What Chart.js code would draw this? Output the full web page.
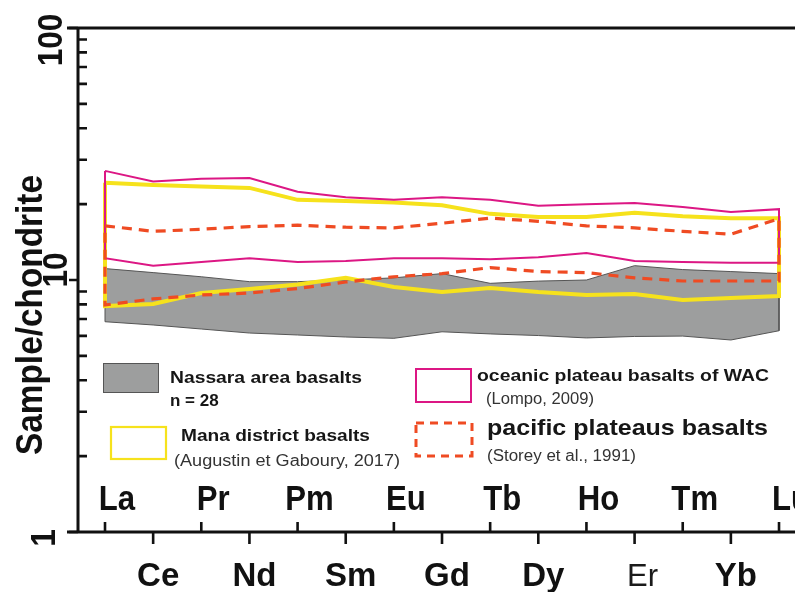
<!DOCTYPE html>
<html>
<head>
<meta charset="utf-8">
<script src="https://cdn.jsdelivr.net/npm/chart.js@4.4.0/dist/chart.umd.min.js"></script>
<style>
  html, body { margin: 0; padding: 0; background: #fff; overflow: hidden; }
  canvas { display: block; }
</style>
</head>
<body>
<canvas id="ree" width="795" height="592"></canvas>
<script>
// Chondrite-normalised REE patterns (sample/chondrite), La → Lu
const elements = ['La', 'Ce', 'Pr', 'Nd', 'Pm', 'Sm', 'Eu', 'Gd', 'Tb', 'Dy', 'Ho', 'Er', 'Tm', 'Yb', 'Lu'];

// Nassara area basalts (n = 28): envelope of the field
const nassaraMax = [11.1, 10.7, 10.3, 9.85, 9.85, 10.0, 10.2, 10.6, 9.7, 9.9, 10.0, 11.4, 11.0, 10.8, 10.6];
const nassaraMin = [6.83, 6.63, 6.39, 6.16, 6.05, 5.94, 5.87, 6.23, 6.11, 6.02, 5.89, 5.97, 5.99, 5.78, 6.29];

// Mana district basalts (Augustin et Gaboury, 2017)
const manaMax = [24.3, 23.8, 23.5, 23.2, 20.8, 20.6, 20.3, 19.8, 18.3, 17.8, 17.8, 18.5, 17.9, 17.6, 17.6];
const manaMin = [7.88, 8.03, 8.88, 9.21, 9.6, 10.2, 9.38, 8.96, 9.3, 8.96, 8.72, 8.8, 8.33, 8.48, 8.64];

// Oceanic plateau basalts of WAC (Lompo, 2009)
const wacMax = [27.1, 24.6, 25.2, 25.4, 22.4, 21.3, 20.8, 21.3, 20.8, 19.7, 20.0, 20.2, 19.5, 18.6, 19.1];
const wacMin = [12.2, 11.4, 11.8, 12.2, 11.8, 11.9, 12.2, 12.2, 12.1, 12.3, 12.8, 11.9, 11.8, 11.7, 11.7];

// Pacific plateau basalts (Storey et al., 1991)
const pacificMax = [16.4, 15.6, 15.9, 16.3, 16.5, 16.2, 16.1, 16.8, 17.6, 17.1, 16.4, 16.1, 15.6, 15.2, 17.5];
const pacificMin = [7.96, 8.41, 8.72, 8.88, 9.25, 9.82, 10.3, 10.6, 11.2, 10.8, 10.7, 10.2, 9.91, 9.91, 9.91];

// Axis tick labels
const yMajorTicks = [1, 10, 100];
const yMinorTicks = [2, 3, 4, 5, 6, 7, 8, 9, 20, 30, 40, 50, 60, 70, 80, 90];

const FONT = "'Liberation Sans', Arial, Helvetica, sans-serif";
const COLORS = {
  axis: '#111111',
  grey: '#9d9e9e',
  greyEdge: '#555555',
  yellow: '#f6e21c',
  magenta: '#dc1784',
  orange: '#ef4b23'
};

// Closed outline: upper curve La→Lu, then lower curve Lu→La, back to start
function envelope(upper, lower) {
  const pts = upper.map((v, i) => ({ x: i, y: v }));
  for (let i = lower.length - 1; i >= 0; i--) pts.push({ x: i, y: lower[i] });
  pts.push({ x: 0, y: upper[0] });
  return pts;
}

// Text helper: optional rotation and horizontal squeeze
function text(ctx, str, x, y, o) {
  ctx.save();
  ctx.font = o.font;
  ctx.fillStyle = o.color || COLORS.axis;
  ctx.textAlign = o.align || 'left';
  ctx.textBaseline = o.baseline || 'alphabetic';
  ctx.translate(x, y);
  if (o.rotate) ctx.rotate(o.rotate);
  let sx = o.sx || 1;
  if (o.width) sx = o.width / ctx.measureText(str).width;
  ctx.scale(sx, o.sy || 1);
  ctx.fillText(str, 0, 0);
  ctx.restore();
}

const axesPlugin = {
  id: 'reeAxes',
  afterDraw(chart) {
    const { ctx, chartArea: a, scales: { x, y } } = chart;
    ctx.save();
    ctx.strokeStyle = COLORS.axis;
    ctx.lineWidth = 3;
    ctx.lineCap = 'butt';
    // frame: top line, left axis, bottom axis
    ctx.beginPath();
    ctx.moveTo(a.left - 11, a.top); ctx.lineTo(a.right, a.top);
    ctx.moveTo(a.left - 11, a.bottom); ctx.lineTo(a.right, a.bottom);
    ctx.moveTo(a.left, a.top - 1.5); ctx.lineTo(a.left, a.bottom + 1.5);
    ctx.stroke();

    // y ticks: majors outward, minors inward
    ctx.lineWidth = 2.6;
    ctx.beginPath();
    yMajorTicks.forEach(v => {
      const py = y.getPixelForValue(v);
      ctx.moveTo(a.left - 9, py); ctx.lineTo(a.left, py);
    });
    yMinorTicks.forEach(v => {
      const py = y.getPixelForValue(v);
      ctx.moveTo(a.left, py); ctx.lineTo(a.left + 9, py);
    });
    // x ticks alternate up / down
    elements.forEach((el, i) => {
      const px = x.getPixelForValue(i);
      if (i % 2 === 0) { ctx.moveTo(px, a.bottom); ctx.lineTo(px, a.bottom - 10); }
      else { ctx.moveTo(px, a.bottom); ctx.lineTo(px, a.bottom + 12); }
    });
    ctx.stroke();
    ctx.restore();

    // y tick labels (rotated)
    const yLabelShift = { 1: [-23, 6], 10: [-11, -10], 100: [-16, 12] };
    yMajorTicks.forEach(v => {
      const [dx, dy] = yLabelShift[v];
      text(ctx, String(v), a.left + dx, y.getPixelForValue(v) + dy, {
        font: `bold 35px ${FONT}`, align: 'center', rotate: -Math.PI / 2, sx: 0.9
      });
    });

    // axis title
    text(ctx, 'Sample/chondrite', 42, 315, {
      font: `bold 37px ${FONT}`, align: 'center', rotate: -Math.PI / 2, width: 280
    });

    // element labels in two staggered rows
    elements.forEach((el, i) => {
      const px = x.getPixelForValue(i);
      if (i % 2 === 0) {
        text(ctx, el, px + 12, 510, { font: `bold 35px ${FONT}`, align: 'center', sx: 0.89 });
      } else if (el === 'Er') {
        text(ctx, el, px + 8, 586, { font: `31px ${FONT}`, align: 'center', color: '#1a1a1a' });
      } else {
        text(ctx, el, px + 5, 586, { font: `bold 33px ${FONT}`, align: 'center' });
      }
    });
  }
};

const legendPlugin = {
  id: 'reeLegend',
  afterDraw(chart) {
    const ctx = chart.ctx;
    ctx.save();
    // Nassara swatch
    ctx.fillStyle = COLORS.grey;
    ctx.fillRect(103, 363, 56, 30);
    ctx.strokeStyle = COLORS.greyEdge; ctx.lineWidth = 1;
    ctx.strokeRect(103.5, 363.5, 55, 29);
    // Mana swatch
    ctx.strokeStyle = COLORS.yellow; ctx.lineWidth = 2.2;
    ctx.strokeRect(111, 427, 55, 32);
    // WAC swatch
    ctx.strokeStyle = COLORS.magenta; ctx.lineWidth = 2;
    ctx.strokeRect(416, 369, 55, 33);
    // Pacific swatch
    ctx.strokeStyle = COLORS.orange; ctx.lineWidth = 3;
    ctx.setLineDash([8, 6]);
    ctx.strokeRect(416, 423, 56, 33);
    ctx.restore();

    const bold17 = `bold 17px ${FONT}`;
    const reg16 = `16px ${FONT}`;
    text(ctx, 'Nassara area basalts', 170, 383, { font: bold17, width: 192, color: '#161616' });
    text(ctx, 'n = 28', 170, 406, { font: bold17, color: '#161616' });
    text(ctx, 'Mana district basalts', 181, 441, { font: bold17, width: 189, color: '#161616' });
    text(ctx, '(Augustin et Gaboury, 2017)', 174, 466, { font: reg16, width: 226, color: '#333333' });
    text(ctx, 'oceanic plateau basalts of WAC', 477, 381, { font: bold17, width: 292, color: '#161616' });
    text(ctx, '(Lompo, 2009)', 486, 404, { font: reg16, width: 108, color: '#333333' });
    text(ctx, 'pacific plateaus basalts', 487, 435, { font: `bold 22px ${FONT}`, width: 281, color: '#161616' });
    text(ctx, '(Storey et al., 1991)', 487, 461, { font: reg16, width: 149, color: '#333333' });
  }
};

const noPoints = { pointRadius: 0, pointHoverRadius: 0, tension: 0 };

new Chart(document.getElementById('ree'), {
  type: 'line',
  data: {
    datasets: [
      Object.assign({
        label: 'Nassara area basalts',
        data: envelope(nassaraMax, nassaraMin),
        borderColor: COLORS.greyEdge, borderWidth: 1,
        backgroundColor: COLORS.grey, fill: 'shape', order: 4
      }, noPoints),
      Object.assign({
        label: 'Mana district basalts',
        data: envelope(manaMax, manaMin),
        borderColor: COLORS.yellow, borderWidth: 4, borderJoinStyle: 'miter',
        fill: false, order: 3
      }, noPoints),
      Object.assign({
        label: 'oceanic plateau basalts of WAC',
        data: envelope(wacMax, wacMin),
        borderColor: COLORS.magenta, borderWidth: 2, borderJoinStyle: 'miter',
        fill: false, order: 2
      }, noPoints),
      Object.assign({
        label: 'pacific plateaus basalts',
        data: envelope(pacificMax, pacificMin),
        borderColor: COLORS.orange, borderWidth: 3.2, borderDash: [10, 7],
        fill: false, order: 1
      }, noPoints)
    ]
  },
  options: {
    responsive: false,
    animation: false,
    devicePixelRatio: 1,
    layout: { padding: { left: 78, right: 0, top: 28, bottom: 60 } },
    plugins: { legend: { display: false }, tooltip: { enabled: false } },
    scales: {
      x: { type: 'linear', min: -0.561, max: 14.332, display: false },
      y: { type: 'logarithmic', min: 1, max: 100, display: false }
    }
  },
  plugins: [axesPlugin, legendPlugin]
});
</script>
</body>
</html>
